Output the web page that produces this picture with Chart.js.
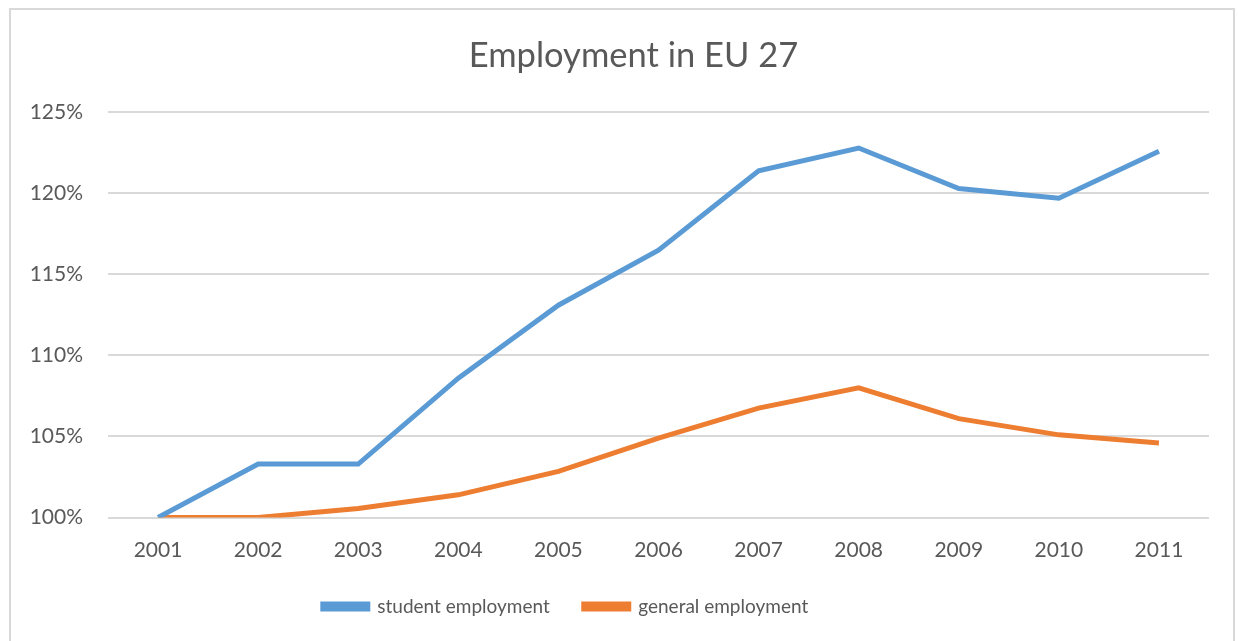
<!DOCTYPE html>
<html>
<head>
<meta charset="utf-8">
<script src="https://cdn.jsdelivr.net/npm/chart.js@4.4.0/dist/chart.umd.min.js"></script>
<style>
  html, body { margin: 0; padding: 0; background: #fff; }
  #frame {
    position: absolute; left: 9px; top: 8px;
    width: 1222px; height: 640px;
    border: 2px solid #d9d9d9;
  }
  #wrap { position: absolute; left: 0; top: 0; width: 1238px; height: 641px; }
</style>
</head>
<body>
<div id="frame"></div>
<div id="wrap"><canvas id="employmentChart" width="1238" height="641"></canvas></div>
<script>
// Employment index, 2001 = 100%
const years = ['2001', '2002', '2003', '2004', '2005', '2006', '2007', '2008', '2009', '2010', '2011'];
const studentEmployment = [100, 103.3, 103.3, 108.6, 113.1, 116.5, 121.4, 122.8, 120.3, 119.7, 122.6];
const generalEmployment = [100, 100.0, 100.55, 101.4, 102.85, 104.9, 106.75, 108.0, 106.1, 105.1, 104.6];

const textColor = '#595959';
const fontFamily = 'Lato, "Open Sans", sans-serif';

// nudge title and legend sideways without touching the plot area
const shiftBoxes = {
  id: 'shiftBoxes',
  afterLayout(chart) {
    chart.titleBlock.left += 24;
    chart.titleBlock.right += 24;
    chart.legend.left -= 44;
    chart.legend.right -= 44;
  }
};

const ctx = document.getElementById('employmentChart').getContext('2d');
const employmentChart = new Chart(ctx, {
  type: 'line',
  data: {
    labels: years,
    datasets: [
      {
        label: 'student employment',
        data: studentEmployment,
        borderColor: '#5b9bd5',
        backgroundColor: '#5b9bd5',
        borderWidth: 5,
        pointRadius: 0,
        tension: 0
      },
      {
        label: 'general employment',
        data: generalEmployment,
        borderColor: '#ed7d31',
        backgroundColor: '#ed7d31',
        borderWidth: 5,
        pointRadius: 0,
        tension: 0
      }
    ]
  },
  options: {
    responsive: false,
    animation: false,
    layout: { padding: { left: 10, right: 29, top: 10, bottom: 15 } },
    scales: {
      x: {
        offset: true,
        afterFit: scale => { scale.height = 45.5; },
        grid: { display: false, drawTicks: false },
        border: { display: false },
        ticks: { color: textColor, font: { family: fontFamily, size: 21 }, padding: 20, maxRotation: 0 }
      },
      y: {
        min: 100,
        max: 125,
        afterFit: scale => { scale.width = 98; },
        grid: { color: '#d9d9d9', lineWidth: 2, drawTicks: false },
        border: { display: false },
        ticks: {
          stepSize: 5,
          color: textColor,
          font: { family: fontFamily, size: 21 },
          padding: 25,
          callback: v => v + '%'
        }
      }
    },
    plugins: {
      title: {
        display: true,
        text: 'Employment in EU 27',
        color: textColor,
        font: { family: fontFamily, size: 34.5, weight: 'normal' },
        padding: { top: 25, bottom: 36 }
      },
      legend: {
        position: 'bottom',
        labels: {
          color: textColor,
          font: { family: fontFamily, size: 19 },
          boxWidth: 45,
          boxHeight: 5,
          padding: 34
        }
      },
      tooltip: { enabled: false }
    }
  },
  plugins: [shiftBoxes]
});
</script>
</body>
</html>
